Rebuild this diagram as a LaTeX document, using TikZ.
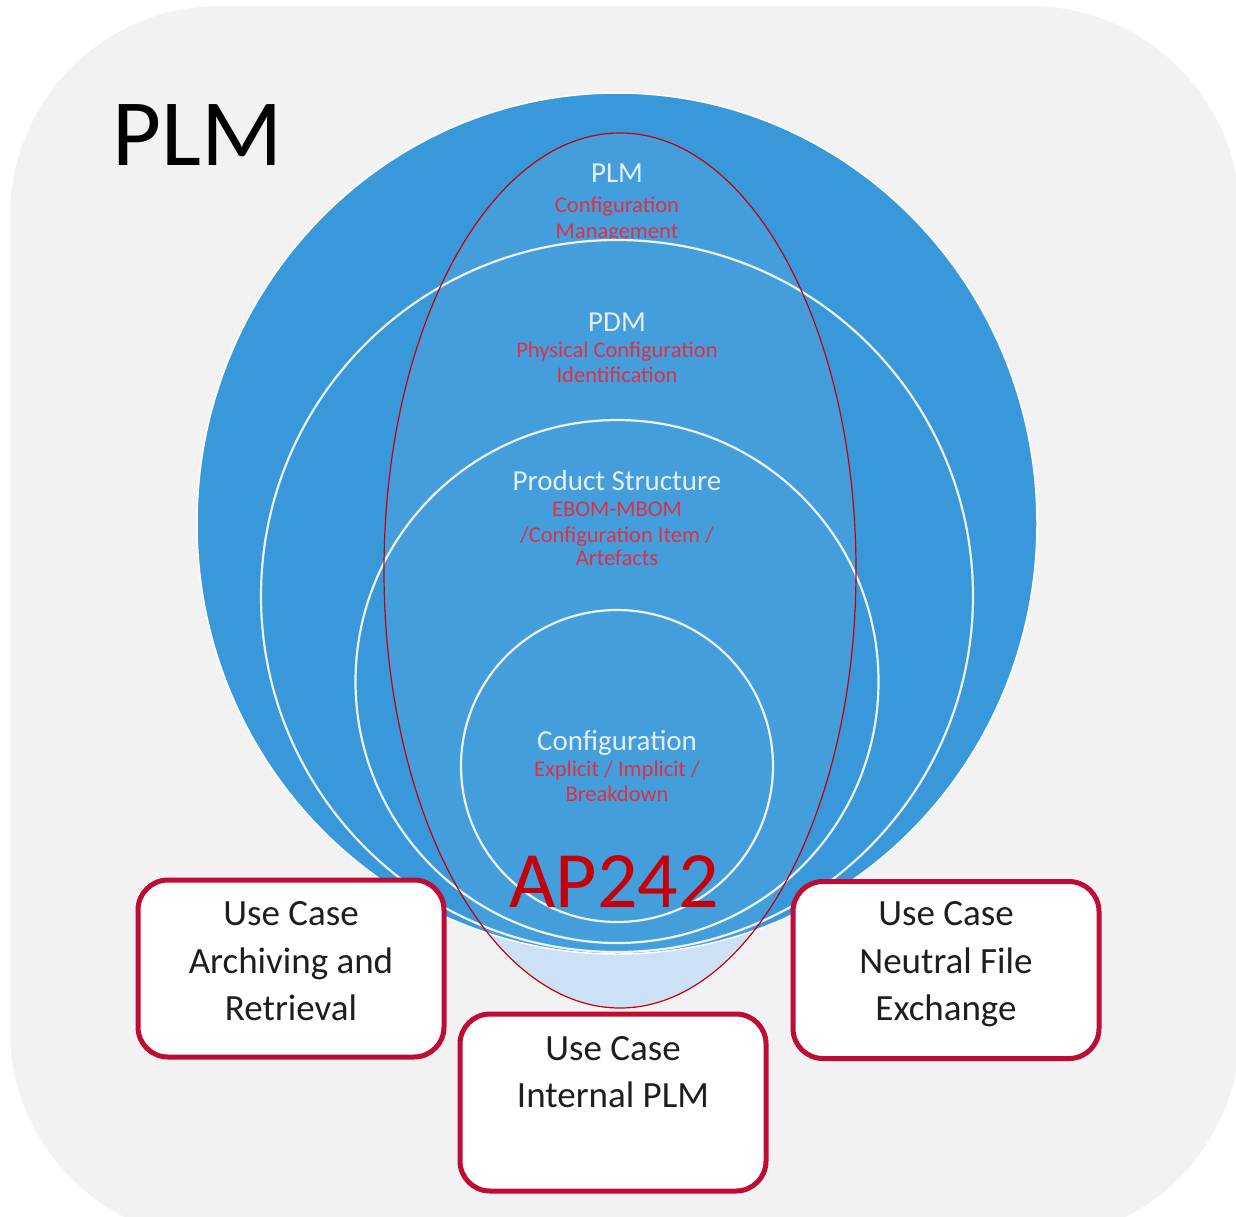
\documentclass[tikz,border=0pt]{standalone}
\usepackage{fontspec}
\setmainfont{Carlito}
\definecolor{bggray}{RGB}{242,242,242}
\definecolor{plmblue}{RGB}{57,152,218}
\definecolor{ellblue}{RGB}{204,225,245}
\definecolor{ringwhite}{RGB}{235,243,250}
\definecolor{titlewhite}{RGB}{228,239,250}
\definecolor{subred}{RGB}{220,36,58}
\definecolor{apred}{RGB}{196,0,8}
\definecolor{boxred}{RGB}{190,12,52}
\definecolor{ucgray}{RGB}{30,30,30}
\begin{document}
\begin{tikzpicture}[x=1pt,y=-1pt,
  ring/.style={fill=plmblue, draw=ringwhite, line width=2.2pt},
  ttl/.style={text=titlewhite, anchor=base, inner sep=0pt, font=\fontsize{29}{34}\selectfont},
  sub/.style={text=subred, anchor=base, inner sep=0pt, font=\fontsize{22.5}{26}\selectfont},
  ucbox/.style={draw=boxred, line width=5pt, fill=white, rounded corners=30pt,
     minimum width=306pt, minimum height=177pt, inner sep=0pt},
  uctext/.style={text=ucgray, anchor=base, inner sep=0pt, font=\fontsize{37}{44}\selectfont}
]
\useasboundingbox (0,0) rectangle (1236,1216);
\clip (0,0) rectangle (1236,1216);
\fill[white] (0,0) rectangle (1236,1216);
% background panel
\fill[bggray, rounded corners=210pt] (10,6) rectangle (1240,1240);

% AP242 ellipse base (light part outside the circles)
\fill[ellblue] (620,570.5) ellipse[x radius=236pt, y radius=437.5pt];

% PLM layer
\draw[fill=plmblue, draw=white, line width=1.5pt] (617,523.5) ellipse[x radius=420pt, y radius=430.5pt];
\node[ttl] (tplm) at (617,182) {PLM};
\node[sub] (splm1) at (617,212) {Configuration};
\node[sub] (splm2) at (617,238) {Management};

% PDM layer
\draw[ring] (617,596) circle[radius=356pt];
\node[ttl] (tpdm) at (617,331) {PDM};
\node[sub] (spdm1) at (617,357) {Physical Configuration};
\node[sub] (spdm2) at (617,382) {Identification};

% Product Structure layer
\draw[ring] (617,681.5) circle[radius=261.5pt];
\node[ttl] (tps) at (617,490) {Product Structure};
\node[sub] (sps1) at (617,516) {EBOM-MBOM};
\node[sub] (sps2) at (617,542) {/Configuration Item /};
\node[sub] (sps3) at (617,565) {Artefacts};

% Configuration layer
\draw[ring] (617,766) circle[radius=156pt];
\node[ttl] (tcfg) at (617,750) {Configuration};
\node[sub] (scfg1) at (617,776) {Explicit / Implicit /};
\node[sub] (scfg2) at (617,801) {Breakdown};

% lighten inside the AP242 ellipse
\begin{scope}
  \clip (617,523.5) ellipse[x radius=420pt, y radius=430.5pt];
  \fill[white, opacity=0.06] (620,570.5) ellipse[x radius=236pt, y radius=437.5pt];
\end{scope}
\draw[apred, line width=1.2pt] (620,570.5) ellipse[x radius=236pt, y radius=437.5pt];

% labels
\node[text=apred, anchor=base, inner sep=0pt, font=\fontsize{80}{90}\selectfont] (ap) at (614,907) {AP242};
\node[text=black, anchor=base west, inner sep=0pt, font=\fontsize{95}{110}\selectfont] (plmbig) at (112,165) {PLM};

% use case boxes
\node[ucbox] (uc1) at (291,968.5) {};
\node[uctext] (uc1a) at (291,925) {Use Case};
\node[uctext] (uc1b) at (291,973) {Archiving and};
\node[uctext] (uc1c) at (291,1020) {Retrieval};

\node[ucbox] (uc2) at (613,1102.5) {};
\node[uctext] (uc2a) at (613,1060) {Use Case};
\node[uctext] (uc2b) at (613,1107) {Internal PLM};

\node[ucbox] (uc3) at (946,970) {};
\node[uctext] (uc3a) at (946,925) {Use Case};
\node[uctext] (uc3b) at (946,973) {Neutral File};
\node[uctext] (uc3c) at (946,1020) {Exchange};
\end{tikzpicture}
\end{document}
